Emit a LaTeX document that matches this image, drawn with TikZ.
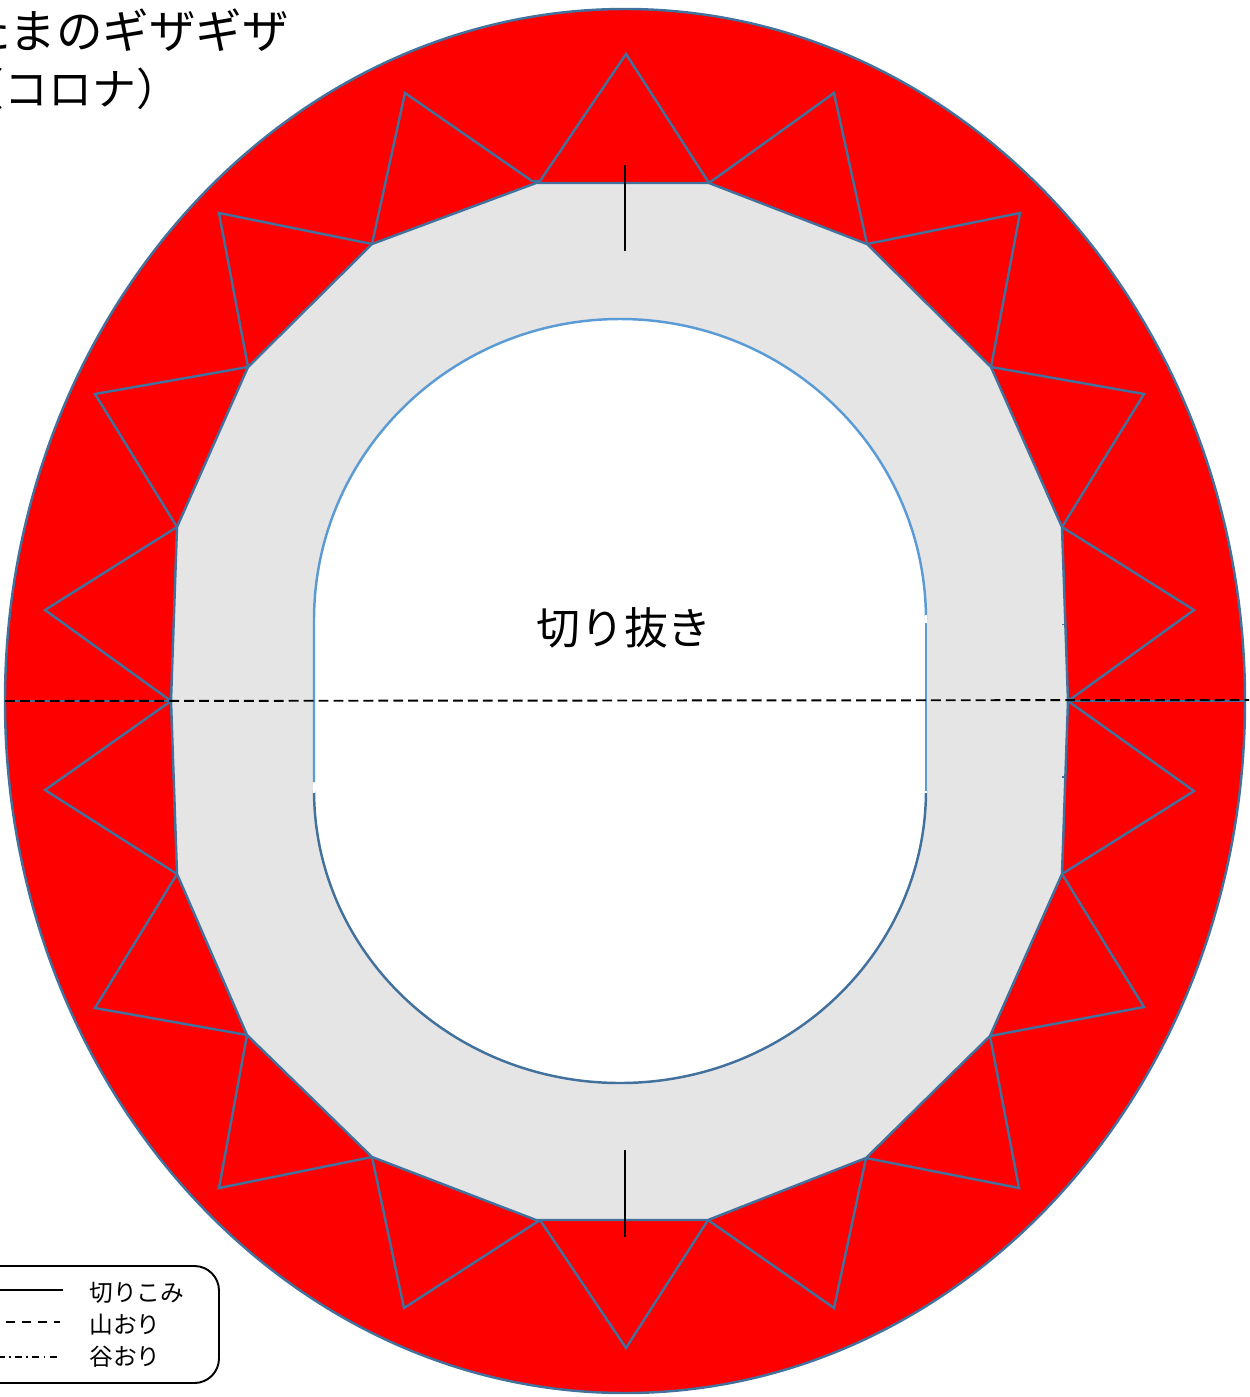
\documentclass[tikz,border=0pt]{standalone}
\usepackage{fontspec}
\setmainfont{Noto Sans CJK JP}
\definecolor{edgeblue}{HTML}{41719C}
\definecolor{holeblue}{HTML}{5B9BD5}
\definecolor{bandgray}{HTML}{E5E5E5}
\tikzset{
  edgeline/.style={draw=edgeblue, line width=1.4pt, line join=miter},
  foldline/.style={black, line width=1.1pt, dash pattern=on 5.6pt off 2.9pt},
  cutline/.style={black, line width=1.5pt},
  bigtext/.style={inner sep=0pt, font=\fontsize{25}{30}\selectfont},
  titletext/.style={anchor=west, inner sep=0pt},
  keytext/.style={anchor=west, inner sep=0pt, font=\fontsize{13.5}{16}\selectfont}
}
\begin{document}
\begin{tikzpicture}[x=0.02cm, y=-0.02cm]
\useasboundingbox (0,0) rectangle (1249,1397);
\clip (0,0) rectangle (1249,1397);

% Sun corona
\filldraw[fill=red, edgeline] (625,701) ellipse [x radius=620, y radius=692];
\draw[edgeline] (5,701) -- (171,701);
\draw[edgeline] (1068,701) -- (1245,701);

% Zigzag
\filldraw[fill=red, edgeline] (540,181) -- (626,54) -- (709,183) -- (834,93) -- (867,244)
  -- (1020,213) -- (991,367) -- (1144,394) -- (1062,527) -- (1194,610) -- (1068,701)
  -- (1194,791) -- (1062,874) -- (1144,1007) -- (990,1036) -- (1019,1188) -- (866,1158)
  -- (834,1308) -- (708,1220) -- (626,1348) -- (540,1220) -- (404,1308) -- (372,1157)
  -- (219,1188) -- (247,1035) -- (95,1008) -- (177,874) -- (45,790) -- (171,701)
  -- (45,610) -- (177,527) -- (95,394) -- (248,367) -- (219,213) -- (372,244)
  -- (405,93) -- (532,181) -- cycle;

% Gray band
\filldraw[fill=bandgray, edgeline] (536,183) -- (709,183) -- (867,244) -- (991,367)
  -- (1062,527) -- (1068,701) -- (1062,874) -- (990,1036) -- (866,1158) -- (708,1220)
  -- (536,1220) -- (372,1157) -- (247,1035) -- (177,874) -- (171,701) -- (177,527)
  -- (248,367) -- (372,244) -- cycle;
\draw[edgeblue, line width=1pt] (1062,624.5) -- (1066,624.5);
\draw[edgeblue, line width=1pt] (1062,777) -- (1066,777);
\draw[edgeblue, line width=1pt] (172,777) -- (175,777);

% Cut-out
\fill[white] (314,620) arc [start angle=180, end angle=360, x radius=306, y radius=301]
  -- (926,790) arc [start angle=0, end angle=180, x radius=306, y radius=293] -- cycle;
\draw[edgeblue, line width=1.4pt] (314,790) arc [start angle=180, end angle=0, x radius=306, y radius=293];
\draw[holeblue, line width=1.4pt] (314,782) -- (314,620)
  arc [start angle=180, end angle=360, x radius=306, y radius=301];
\draw[holeblue, line width=1.4pt] (926,620) -- (926,791);
\draw[white, line width=1.5pt] (926,615) -- (926,623);
\draw[white, line width=1.5pt] (314,783) -- (314,793);
\draw[white, line width=1.5pt] (926,791) -- (926,793);
\node[bigtext] (cutout) at (624,628) {切り抜き};

% Fold and cuts
\coordinate (foldleft) at (5,701);
\coordinate (foldright) at (1249,700);
\draw[foldline] (foldleft) -- (foldright);
\coordinate (cuttopa) at (625,165);
\coordinate (cuttopb) at (625,251);
\coordinate (cutbota) at (625,1150);
\coordinate (cutbotb) at (625,1237);
\draw[cutline] (cuttopa) -- (cuttopb);
\draw[cutline] (cutbota) -- (cutbotb);

% Title
\node[titletext, font=\fontsize{26.5}{30}\selectfont] (titlea) at (-36,30) {たまのギザギザ};
\node[titletext, font=\fontsize{25}{30}\selectfont] (titleb) at (-40,89) {（コロナ）};

% Legend
\draw[black, line width=1.1pt, rounded corners=14pt] (-40,1266) rectangle (219,1383);
\coordinate (solida) at (-5,1290);
\coordinate (solidb) at (63,1290);
\coordinate (dasha) at (6,1322);
\coordinate (dashb) at (60,1322);
\coordinate (dota) at (-2,1357);
\coordinate (dotb) at (58,1357);
\draw[black, line width=1.1pt] (solida) -- (solidb);
\draw[black, line width=1.1pt, dash pattern=on 5pt off 4.2pt] (dasha) -- (dashb);
\draw[black, line width=0.9pt, dash pattern=on 4pt off 2.4pt on 1pt off 2.4pt] (dota) -- (dotb);
\node[keytext] (keycut) at (89,1293) {切りこみ};
\node[keytext] (keymount) at (89,1325) {山おり};
\node[keytext] (keyvalley) at (89,1357) {谷おり};
\end{tikzpicture}
\end{document}
